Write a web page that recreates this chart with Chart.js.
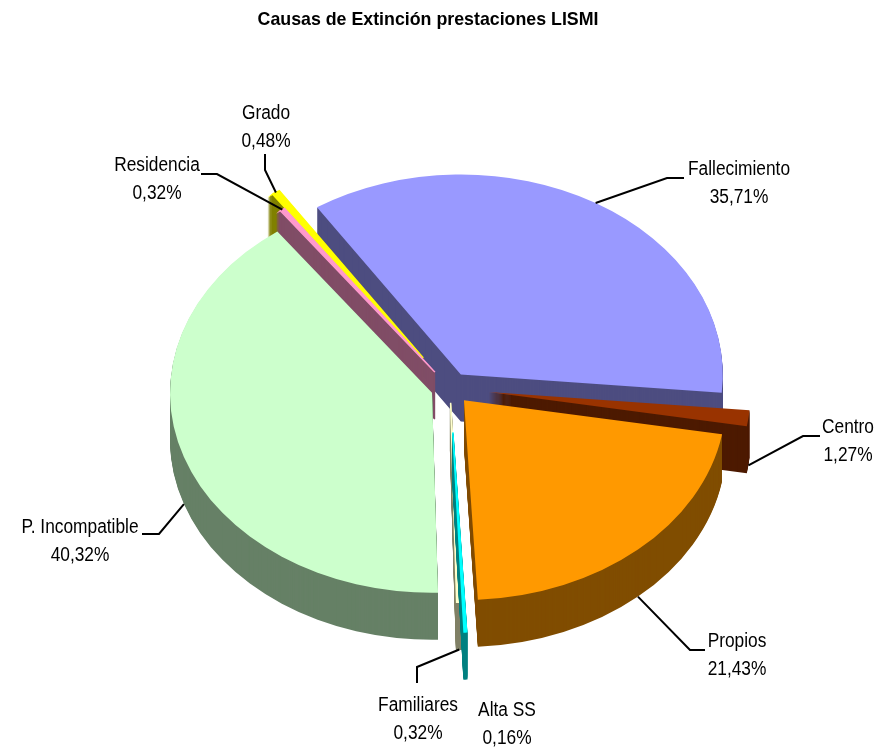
<!DOCTYPE html>
<html>
<head>
<meta charset="utf-8">
<title>Causas de Extinción prestaciones LISMI</title>
<script src="https://cdn.jsdelivr.net/npm/chart.js@4"></script>
<style>
  html, body { margin: 0; background: #fff; }
  #wrap { width: 876px; height: 749px; }
</style>
</head>
<body>
<div id="wrap"><canvas id="pie" width="876" height="749"></canvas></div>
<script>
const categories = ['Fallecimiento', 'Centro', 'Propios', 'Alta SS', 'Familiares', 'P. Incompatible', 'Residencia', 'Grado'];
const percents = [35.71, 1.27, 21.43, 0.16, 0.32, 40.32, 0.32, 0.48];
const topColors = ['#9999FF', '#993300', '#FF9900', '#00FFFF', '#FFFFCC', '#CCFFCC', '#FF99CC', '#FFFF00'];
const wallColors = ['#4D4D80', '#4D1A00', '#804D00', '#008080', '#808066', '#668066', '#804D66', '#808000'];

// how far each slice is pulled out of the pie, px
const explode = [21, 39, 21, 58, 19, 19, 26, 48];
// back to front
const paintOrder = [0, 7, 6, 1, 5, 4, 3, 2];
// the very thin slices get a border so they don't vanish
const sliverBorder = [0, 0, 0, 1.5, 1.5, 0, 1.5, 2];

const tilt = 0.763;
const depth = 47;
// title sits left of the pie centre, so the pie is moved over by hand
const pieShift = 22;
// original labels are tall and condensed
const labelFontSize = 20;
const labelSqueeze = 0.866;

// label placement: centre x, first line y, elbow of leader, end of leader, leader on lower edge?
const labelX = [739, 848, 737, 507, 418, 80, 157, 266];
const labelY = [169, 427, 641, 710, 705, 527, 165, 113];
const leaderElbow = [[667, 178], [803, 436], [690, 650], null, [417, 667], [159, 534], [217, 174], [265, 170]];
const leaderEnd = [[684, 178], [820, 436], [705, 650], null, [417, 683], [142, 534], [201, 174], [265, 154]];
const leaderLow = [false, true, true, false, true, true, false, false];

function shifted(arc, i, color) {
  const half = (arc.startAngle + arc.endAngle) / 2;
  const copy = Object.create(arc);
  copy.x = arc.x + pieShift + Math.cos(half) * explode[i];
  copy.y = arc.y + Math.sin(half) * explode[i];
  copy.options = { ...arc.options, backgroundColor: color, borderColor: color, borderWidth: sliverBorder[i], borderJoinStyle: 'miter', offset: 0 };
  return copy;
}

function drawFlat(ctx, arc, piece, drop) {
  ctx.save();
  ctx.translate(0, arc.y + drop);
  ctx.scale(1, tilt);
  ctx.translate(0, -arc.y);
  piece.draw(ctx);
  ctx.restore();
}

function drawLabel(ctx, text, x, y) {
  ctx.save();
  ctx.translate(x, y);
  ctx.scale(labelSqueeze, 1);
  ctx.fillText(text, 0, 0);
  ctx.restore();
}

const pie3d = {
  id: 'pie3d',
  beforeDatasetsDraw(chart) {
    const ctx = chart.ctx;
    const arcs = chart.getDatasetMeta(0).data;

    paintOrder.forEach(i => {
      const arc = arcs[i];
      const wall = shifted(arc, i, wallColors[i]);
      for (let d = depth; d > 0; d--) drawFlat(ctx, arc, wall, d);
      drawFlat(ctx, arc, shifted(arc, i, topColors[i]), 0);
    });

    // leaders and labels
    ctx.strokeStyle = '#000';
    ctx.lineWidth = 2;
    ctx.lineJoin = 'miter';
    categories.forEach((name, i) => {
      const arc = arcs[i];
      if (leaderElbow[i]) {
        const half = (arc.startAngle + arc.endAngle) / 2;
        const px = arc.x + pieShift + Math.cos(half) * (arc.outerRadius + explode[i]);
        const py = arc.y + Math.sin(half) * (arc.outerRadius + explode[i]) * tilt + (leaderLow[i] ? depth : 0);
        ctx.beginPath();
        ctx.moveTo(px, py);
        ctx.lineTo(leaderElbow[i][0], leaderElbow[i][1]);
        ctx.lineTo(leaderEnd[i][0], leaderEnd[i][1]);
        ctx.stroke();
      }
      ctx.fillStyle = '#000';
      ctx.font = labelFontSize + 'px "Liberation Sans"';
      ctx.textAlign = 'center';
      ctx.textBaseline = 'middle';
      drawLabel(ctx, name, labelX[i], labelY[i]);
      drawLabel(ctx, percents[i].toFixed(2).replace('.', ',') + '%', labelX[i], labelY[i] + 28);
    });
    return false;
  }
};

new Chart(document.getElementById('pie'), {
  type: 'pie',
  data: {
    labels: categories,
    datasets: [{ data: percents, backgroundColor: topColors, borderWidth: 0, hoverOffset: 0 }]
  },
  options: {
    responsive: false,
    animation: false,
    events: [],
    rotation: -33.3,
    radius: 262,
    layout: { padding: { left: 0, right: 20, top: 0, bottom: 10 } },
    plugins: {
      legend: { display: false },
      tooltip: { enabled: false },
      title: {
        display: true,
        text: 'Causas de Extinción prestaciones LISMI',
        color: '#000',
        font: { family: '"Liberation Sans"', size: 17.8, weight: 'bold' },
        padding: { top: 9, bottom: 7 }
      }
    }
  },
  plugins: [pie3d]
});
</script>
</body>
</html>
